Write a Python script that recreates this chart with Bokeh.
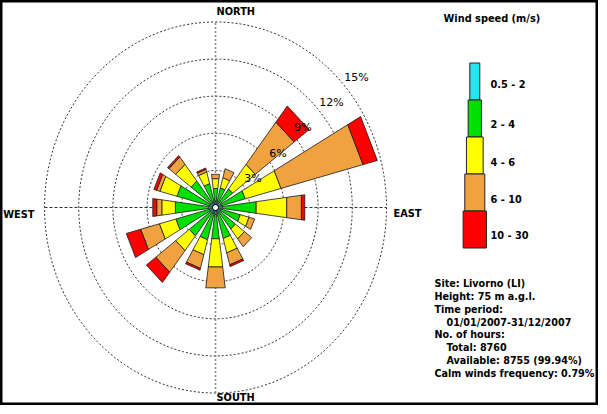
import math
from bokeh.plotting import figure
from bokeh.models import ColumnDataSource, Label
from bokeh.core.properties import value
from bokeh.embed import file_html
from bokeh.resources import INLINE

# ---------------- data ----------------
directions = ["N", "NNE", "NE", "ENE", "E", "ESE", "SE", "SSE",
              "S", "SSW", "SW", "WSW", "W", "WNW", "NW", "NNW"]
dir_angle = [0, 22.5, 45, 67.5, 90, 112.5, 135, 157.5,
             180, 202.5, 225, 247.5, 270, 292.5, 315, 337.5]

speed_classes = ["0.5 - 2", "2 - 4", "4 - 6", "6 - 10", "10 - 30"]
class_colors = ["#22E6F2", "#00E000", "#FFFF00", "#EFA23F", "#FF0000"]

# frequency (%) of each speed class per direction
freq_05_2 = [0.50, 0.50, 0.55, 0.55, 0.60, 0.50, 0.50, 0.50,
             0.55, 0.50, 0.50, 0.55, 0.60, 0.55, 0.50, 0.50]
freq_2_4 = [1.05, 1.15, 1.35, 2.15, 3.00, 1.75, 1.70, 2.10,
            2.00, 2.20, 2.40, 3.05, 2.95, 2.95, 2.20, 1.50]
freq_4_6 = [0.80, 0.85, 2.50, 3.25, 2.70, 0.80, 1.00, 1.20,
            2.30, 1.25, 1.50, 1.50, 1.20, 1.55, 1.70, 0.98]
freq_6_10 = [0.35, 0.75, 4.30, 7.45, 1.30, 0.50, 0.80, 1.00,
             1.70, 1.15, 2.20, 1.70, 0.45, 0.30, 0.75, 0.22]
freq_10_30 = [0.00, 0.00, 1.65, 1.30, 0.30, 0.00, 0.00, 0.15,
              0.00, 0.15, 1.05, 1.30, 0.35, 0.25, 0.15, 0.11]

ring_values = [3, 6, 9, 12, 15]
ring_labels = ["3%", "6%", "9%", "12%", "15%"]

legend_title = "Wind speed (m/s)"
info_lines = ["Site: Livorno (LI)", "Height: 75 m a.g.l.", "Time period:",
              "01/01/2007-31/12/2007", "No. of hours:", "Total: 8760",
              "Available: 8755  (99.94%)", "Calm winds frequency: 0.79%"]
info_indent = [0, 0, 0, 1, 0, 1, 1, 0]

# ---------------- layout ----------------
W, H = 598, 405
ORIGIN_X, ORIGIN_Y = 4, 5      # reference px that maps to the figure's top-left
CX, CY = 219.0, 212.0          # rose centre (reference px)
SX, SY = 11.4, 12.37           # px per 1 % horizontally / vertically
HALF = 7.5                     # half width of a sector (deg)


def gx(px):
    return (px - CX) / SX


def gy(py):
    return (CY - py) / SY


p = figure(width=W, height=H,
           x_range=(gx(ORIGIN_X), gx(ORIGIN_X + W)),
           y_range=(gy(ORIGIN_Y + H), gy(ORIGIN_Y)),
           x_axis_type=None, y_axis_type=None,
           output_backend="svg", toolbar_location=None, min_border=0)
p.grid.visible = False
p.outline_line_color = "black"
p.outline_line_width = 4
p.background_fill_color = "white"
p.border_fill_color = "white"

# ---- grid rings ----
rx, ry = [], []
for r in ring_values:
    ts = [i * math.pi / 180 for i in range(0, 361, 2)]
    rx.append([r * math.sin(t) for t in ts])
    ry.append([r * math.cos(t) for t in ts])
p.multi_line(rx, ry, line_color="#333333", line_width=1, line_dash="2 2")

rmax = ring_values[-1]
p.line([0, 0], [-rmax, rmax], line_color="#888888", line_width=1.6, line_dash="2 2")
p.line([-rmax, rmax], [0, 0], line_color="#333333", line_width=1, line_dash="3 2")

# ---- sectors ----
series = [freq_05_2, freq_2_4, freq_4_6, freq_6_10, freq_10_30]
xs, ys, fc = [], [], []
for i, ang in enumerate(dir_angle):
    r0 = 0.0
    for k, s in enumerate(series):
        r1 = r0 + s[i]
        if s[i] > 0:
            a1 = math.radians(ang - HALF)
            a2 = math.radians(ang + HALF)
            xs.append([r0 * math.sin(a1), r1 * math.sin(a1), r1 * math.sin(a2), r0 * math.sin(a2)])
            ys.append([r0 * math.cos(a1), r1 * math.cos(a1), r1 * math.cos(a2), r0 * math.cos(a2)])
            fc.append(class_colors[k])
        r0 = r1
src = ColumnDataSource(dict(xs=xs, ys=ys, fc=fc))
p.patches("xs", "ys", source=src, fill_color="fc", line_color="#1a1a1a", line_width=0.8)

p.scatter([0], [0], marker="circle", size=6, fill_color="white", line_color="black", line_width=1)

# ---- ring labels ----
la = math.radians(47)
lsrc = ColumnDataSource(dict(
    x=[(r + 0.45) * math.sin(la) for r in ring_values],
    y=[(r + 0.45) * math.cos(la) for r in ring_values],
    t=ring_labels))
p.text("x", "y", text="t", source=lsrc, text_font=value("DejaVu Sans"),
       text_font_size="11px", text_align="left", text_baseline="middle", text_color="black")


def lab(text, ax, ay, align="left", size="9.8px", bold=True):
    p.add_layout(Label(x=gx(ax), y=gy(ay), text=text, text_align=align,
                       text_baseline="middle", text_font="DejaVu Sans",
                       text_font_style="bold" if bold else "normal",
                       text_font_size=size, text_color="black"))


# compass labels
lab("NORTH", 220, 15.5)
lab("SOUTH", 220, 401.5)
lab("WEST", 38, 219, align="right")
lab("EAST", 397, 218)

# ---- legend ----
lab(legend_title, 447, 22.5)
box_w = [10, 13.3, 16.7, 20, 23.3]
box_cx = 478.3
box_top0, box_h = 67.5, 37.0
lab_y = [89, 129, 167, 203.5, 240]
lq = dict(left=[], right=[], top=[], bottom=[], c=[])
for k in range(len(speed_classes)):
    t = box_top0 + k * box_h
    lq["left"].append(gx(box_cx - box_w[k] / 2))
    lq["right"].append(gx(box_cx + box_w[k] / 2))
    lq["top"].append(gy(t))
    lq["bottom"].append(gy(t + box_h))
    lq["c"].append(class_colors[k])
    lab(speed_classes[k], 494, lab_y[k])
p.quad(left="left", right="right", top="top", bottom="bottom", fill_color="c",
       line_color="#222222", line_width=1, source=ColumnDataSource(lq))

# ---- info block ----
for i, line in enumerate(info_lines):
    lab(line, 438 + 12 * info_indent[i], 288 + i * 12.86, size="9.6px")

open("out.html", "w").write(file_html(p, INLINE))
